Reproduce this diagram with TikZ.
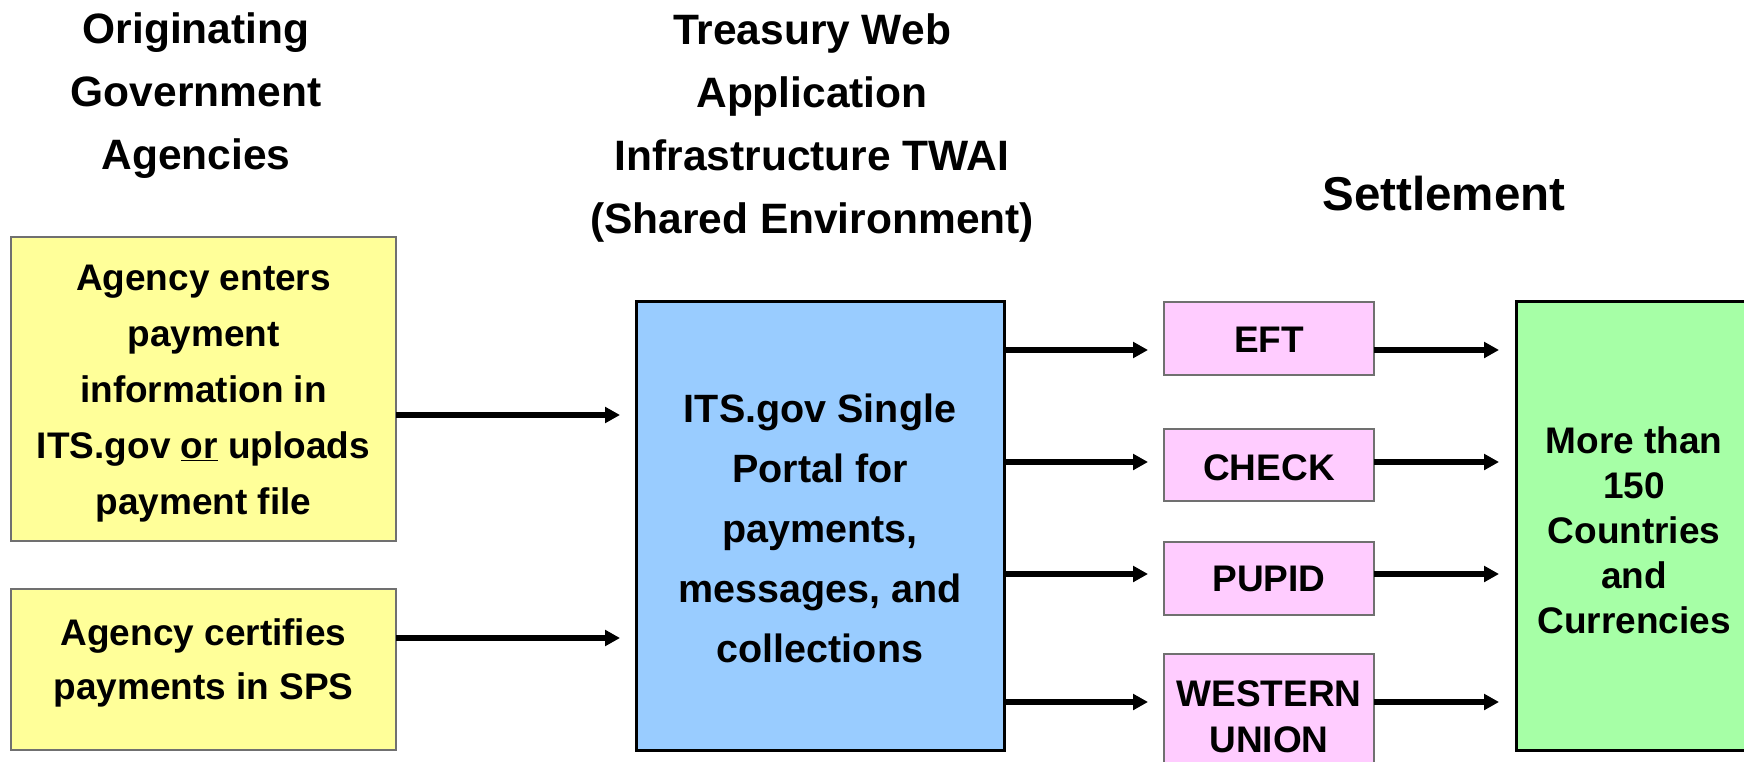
\documentclass[tikz,border=0pt]{standalone}
\usepackage{fontspec}
\setmainfont{Liberation Sans}
\usetikzlibrary{arrows.meta}
\definecolor{yfill}{HTML}{FFFF99}
\definecolor{bfill}{HTML}{99CCFF}
\definecolor{pfill}{HTML}{FFCCFF}
\definecolor{gfill}{HTML}{A6FFA6}
\definecolor{thinedge}{HTML}{707070}
\begin{document}
\begin{tikzpicture}[x=1pt,y=-1pt,
  boxbase/.style={rectangle,inner sep=0pt,outer sep=0pt},
  thinbox/.style={boxbase,draw=thinedge,line width=1.5pt},
  thickbox/.style={boxbase,draw=black,line width=3pt},
  txt/.style={inner sep=0pt,outer sep=0pt,align=center,font=\bfseries},
  arr/.style={line width=5.3pt,-{Triangle[length=15pt,width=15.5pt]}}
]
\useasboundingbox (0,0) rectangle (1744,762);
\clip (0,0) rectangle (1744,762);

% boxes
\node[thinbox,fill=yfill,minimum width=385pt,minimum height=304pt] (ya) at (203.5,389) {};
\node[thinbox,fill=yfill,minimum width=385pt,minimum height=161pt] (yb) at (203.5,669.5) {};
\node[thickbox,fill=bfill,minimum width=368pt,minimum height=449pt] (bl) at (820,525.5) {};
\node[thinbox,fill=pfill,minimum width=210pt,minimum height=73pt] (eft) at (1269,338.5) {};
\node[thinbox,fill=pfill,minimum width=210pt,minimum height=72pt] (chk) at (1269,465) {};
\node[thinbox,fill=pfill,minimum width=210pt,minimum height=73pt] (pup) at (1269,578.5) {};
\node[thinbox,fill=pfill,minimum width=210pt,minimum height=122pt] (wu) at (1269,715) {};
\node[thickbox,fill=gfill,minimum width=236pt,minimum height=449pt] (gr) at (1634,525.5) {};

% headers
\node[txt,font=\bfseries\fontsize{42.5}{63}\selectfont] (h1) at (196,96) {Originating\\Government\\Agencies};
\node[txt,font=\bfseries\fontsize{42.5}{63}\selectfont] (h2) at (812,128) {Treasury Web\\Application\\Infrastructure TWAI\\(Shared Environment)};
\node[txt,font=\bfseries\fontsize{47.5}{57}\selectfont] (h3) at (1444,194) {Settlement};

% box texts
\node[txt,font=\bfseries\fontsize{37}{56}\selectfont] (ta) at (203.5,394) {Agency enters\\payment\\information in\\ITS.gov \underline{or} uploads\\payment file};
\node[txt,font=\bfseries\fontsize{37}{54.5}\selectfont] (tb) at (203.5,663) {Agency certifies\\payments in SPS};
\node[txt,font=\bfseries\fontsize{39.5}{60}\selectfont] (tbl) at (820,528) {ITS.gov Single\\Portal for\\payments,\\messages, and\\collections};
\node[txt,font=\bfseries\fontsize{37}{45}\selectfont] (te) at (1269,340) {EFT};
\node[txt,font=\bfseries\fontsize{37}{45}\selectfont] (tc) at (1269,468) {CHECK};
\node[txt,font=\bfseries\fontsize{37}{45}\selectfont] (tp) at (1269,579) {PUPID};
\node[txt,font=\bfseries\fontsize{37}{45.5}\selectfont] (tw) at (1269,717) {WESTERN\\UNION};
\node[txt,font=\bfseries\fontsize{37}{45}\selectfont] (tg) at (1634,530) {More than\\150\\Countries\\and\\Currencies};

% arrow rows
\coordinate (r1) at (0,415);
\coordinate (r2) at (0,638);
\coordinate (s1) at (0,350);
\coordinate (s2) at (0,462);
\coordinate (s3) at (0,574);
\coordinate (s4) at (0,702);

\draw[arr] (ya.east |- r1) -- ([xshift=-16pt]bl.west |- r1);
\draw[arr] (yb.east |- r2) -- ([xshift=-16pt]bl.west |- r2);

\draw[arr] (bl.east |- s1) -- ([xshift=-16pt]eft.west |- s1);
\draw[arr] (bl.east |- s2) -- ([xshift=-16pt]chk.west |- s2);
\draw[arr] (bl.east |- s3) -- ([xshift=-16pt]pup.west |- s3);
\draw[arr] (bl.east |- s4) -- ([xshift=-16pt]wu.west |- s4);

\draw[arr] (eft.east |- s1) -- ([xshift=-17pt]gr.west |- s1);
\draw[arr] (chk.east |- s2) -- ([xshift=-17pt]gr.west |- s2);
\draw[arr] (pup.east |- s3) -- ([xshift=-17pt]gr.west |- s3);
\draw[arr] (wu.east |- s4) -- ([xshift=-17pt]gr.west |- s4);
\end{tikzpicture}
\end{document}
